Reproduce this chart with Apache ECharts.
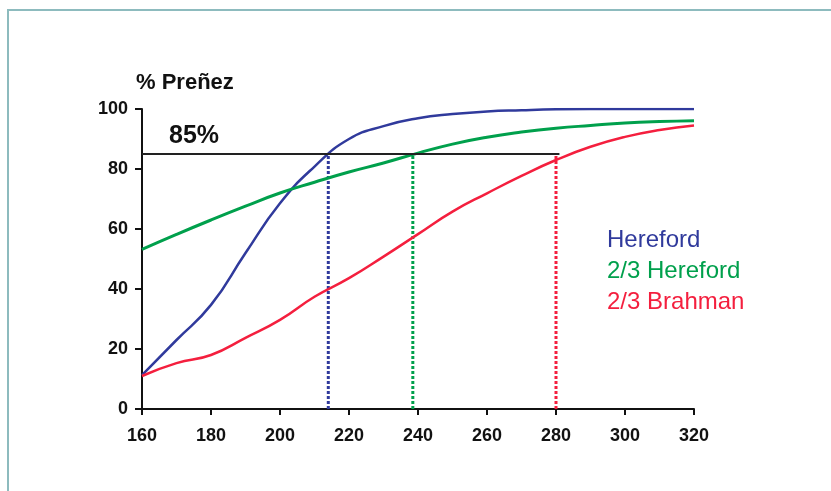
<!DOCTYPE html>
<html>
<head>
<meta charset="utf-8">
<script src="https://cdn.jsdelivr.net/npm/echarts@6/dist/echarts.min.js"></script>
<style>
  html, body { margin: 0; padding: 0; background: #ffffff; }
  #chart { width: 831px; height: 491px; }
</style>
</head>
<body>
<div id="chart"></div>
<script>
// Days after start of breeding season (x) and cumulative pregnancy % (y)
const days = [160, 170, 180, 190, 200, 210, 220, 230, 240, 250, 260, 270, 280, 290, 300, 310, 320];
const hereford   = [11.3, 23, 34.7, 52, 68.6, 80.8, 90, 94.3, 96.9, 98.3, 99.2, 99.6, 99.9, 100, 100, 100, 100];
const hereford23 = [53.2, 58.2, 63, 67.6, 72, 75.6, 79, 82, 85.3, 88.3, 90.6, 92.3, 93.6, 94.5, 95.3, 95.8, 96.1];
const brahman23  = [11, 15.3, 18, 23.7, 29.7, 37.4, 43.6, 50.8, 58.3, 65.8, 71.9, 77.7, 83, 87.4, 90.7, 93, 94.5];

// 85 % target and the day each group reaches it
const targetLevel = 85;
const targetLineEnd = 281;
const targetDays = [214, 238.5, 280];

const seriesNames = ['Hereford', '2/3 Hereford', '2/3 Brahman'];
const seriesColors = ['#303a9c', '#00a04c', '#f41f3e'];
const seriesValues = [hereford, hereford23, brahman23];

const font = 'Liberation Sans, Arial, sans-serif';

const chart = echarts.init(document.getElementById('chart'), null, { renderer: 'canvas' });

const curveSeries = seriesValues.map((vals, i) => ({
  name: seriesNames[i],
  type: 'line',
  data: days.map((d, k) => [d, vals[k]]),
  smooth: 0.5,
  showSymbol: false,
  lineStyle: { color: seriesColors[i], width: i === 1 ? 3 : 2.5 },
  itemStyle: { color: seriesColors[i] },
  z: 3
}));

const dropSeries = targetDays.map((d, i) => ({
  name: 'drop' + i,
  type: 'line',
  data: [[d, 0], [d, targetLevel]],
  showSymbol: false,
  silent: true,
  lineStyle: { color: seriesColors[i], width: 3, type: [3, 2], cap: 'butt' },
  z: 2
}));

const targetSeries = {
  name: 'target',
  type: 'line',
  data: [[days[0], targetLevel], [targetLineEnd, targetLevel]],
  showSymbol: false,
  silent: true,
  lineStyle: { color: '#222', width: 2 },
  z: 4
};

chart.setOption({
  animation: false,
  backgroundColor: '#ffffff',
  grid: { left: 142, right: 137, top: 109, bottom: 82, containLabel: false },
  xAxis: {
    type: 'value',
    min: 160, max: 320, interval: 20,
    axisLine: { show: true, lineStyle: { color: '#111', width: 2 } },
    axisTick: { show: true, length: 6, lineStyle: { color: '#111', width: 2 } },
    axisLabel: { color: '#111', fontFamily: font, fontWeight: 'bold', fontSize: 18, margin: 18 },
    splitLine: { show: false }
  },
  yAxis: {
    type: 'value',
    min: 0, max: 100, interval: 20,
    axisLine: { show: true, lineStyle: { color: '#111', width: 2 } },
    axisTick: { show: true, length: 7, lineStyle: { color: '#111', width: 2 } },
    axisLabel: { color: '#111', fontFamily: font, fontWeight: 'bold', fontSize: 18, margin: 14 },
    splitLine: { show: false }
  },
  legend: {
    data: seriesNames.map((n, i) => ({ name: n, icon: 'none', textStyle: { color: seriesColors[i] } })),
    orient: 'vertical',
    left: 597, top: 222,
    itemWidth: 0, itemHeight: 0, itemGap: 5,
    textStyle: { fontFamily: font, fontSize: 24, lineHeight: 26 },
    selectedMode: false
  },
  graphic: [
    {
      type: 'polyline',
      shape: { points: [[8, 491], [8, 10], [831, 10]] },
      style: { stroke: '#8dbbbe', lineWidth: 2, fill: null }
    },
    {
      type: 'text', left: 136, top: 72,
      style: { text: '% Preñez', fill: '#111', font: 'bold 22px ' + font }
    },
    {
      type: 'text', left: 169, top: 124,
      style: { text: '85%', fill: '#111', font: 'bold 25px ' + font }
    }
  ],
  series: [...dropSeries, targetSeries, ...curveSeries]
});
</script>
</body>
</html>
